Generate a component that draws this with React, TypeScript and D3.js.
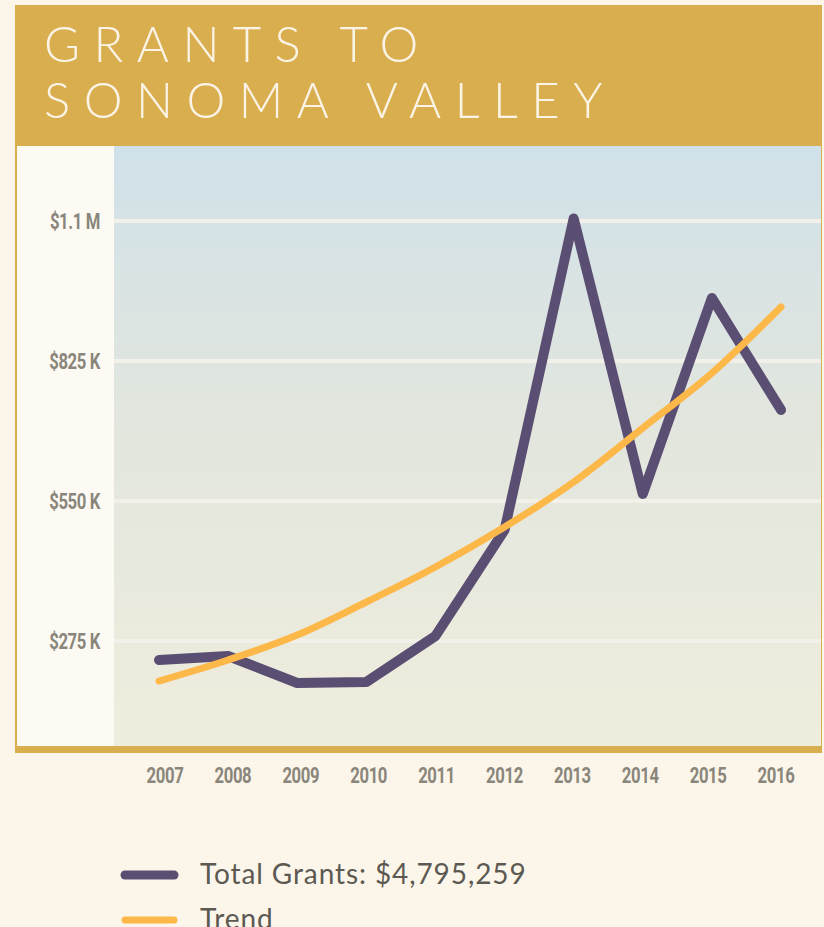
import React from "react";
import * as d3 from "d3";

const years = ["2007", "2008", "2009", "2010", "2011", "2012", "2013", "2014", "2015", "2016"];
const grants = [237700, 245500, 192500, 194500, 284800, 493000, 1105000, 563700, 948800, 728800];
const trend = [196400, 237700, 286800, 351600, 420400, 498900, 587300, 693400, 801400, 931100];
const yTicks = [275000, 550000, 825000, 1100000];
const yTickLabels = ["$275 K", "$550 K", "$825 K", "$1.1 M"];
const titleLines = ["GRANTS TO", "SONOMA VALLEY"];
const legendLabels = ["Total Grants: $4,795,259", "Trend"];

const W = 824;
const H = 927;
const PURPLE = "#5a4e72";
const ORANGE = "#fdb84a";
const GOLD = "#d9ae4f";
const LABEL = "#8a867b";

export default function App() {
  const plotLeft = 114;
  const plotRight = 821;
  const plotTop = 146;
  const plotBottom = 746;

  const x = d3.scalePoint<string>().domain(years).range([159, 781]);
  const xLab = d3.scalePoint<string>().domain(years).range([165, 776]);
  const y = d3.scaleLinear().domain([275000, 1100000]).range([641, 221]);

  const lineStraight = d3
    .line<number>()
    .x((_, i) => x(years[i]) as number)
    .y((d) => y(d));
  const lineSmooth = d3
    .line<number>()
    .x((_, i) => x(years[i]) as number)
    .y((d) => y(d))
    .curve(d3.curveMonotoneX);

  const condensed = "Roboto, 'DejaVu Sans', sans-serif";
  const sx = 0.76;

  return (
    <svg
      width={W}
      height={H}
      style={{ position: "absolute", left: 0, top: 0, display: "block" }}
    >
      <defs>
        <linearGradient id="plotGrad" x1="0" y1="0" x2="0" y2="1">
          <stop offset="0" stopColor="#d0e1e9" />
          <stop offset="0.45" stopColor="#e2e6de" />
          <stop offset="1" stopColor="#efeddd" />
        </linearGradient>
      </defs>
      <rect x={0} y={0} width={W} height={H} fill="#fcf6ea" />

      {/* title band */}
      <rect x={15} y={5} width={807} height={141} fill={GOLD} />
      {titleLines.map((t, i) => (
        <text
          key={t}
          x={44}
          y={62 + i * 56}
          fill="#fbf4e6"
          fontFamily="Lato, 'Open Sans', sans-serif"
          fontWeight={300}
          fontSize={49}
          letterSpacing={13.5}
        >
          {t}
        </text>
      ))}

      {/* chart frame */}
      <rect x={15} y={146} width={807} height={607} fill={GOLD} />
      <rect x={17} y={146} width={plotLeft - 17} height={plotBottom - plotTop} fill="#fdfaf3" />
      <rect
        x={plotLeft}
        y={plotTop}
        width={plotRight - plotLeft}
        height={plotBottom - plotTop}
        fill="url(#plotGrad)"
      />

      {/* grid lines */}
      {yTicks.map((t) => (
        <line
          key={t}
          x1={plotLeft}
          x2={plotRight}
          y1={y(t)}
          y2={y(t)}
          stroke="#f3f0ea"
          strokeWidth={4}
        />
      ))}

      {/* y labels */}
      {yTicks.map((t, i) => (
        <text
          key={"yl" + t}
          transform={`translate(100,${y(t) + 8}) scale(${sx},1)`}
          textAnchor="end"
          fill={LABEL}
          fontFamily={condensed}
          fontWeight={700}
          fontSize={22}
          letterSpacing={-0.5}
        >
          {yTickLabels[i]}
        </text>
      ))}

      {/* lines */}
      <path
        d={lineStraight(grants) as string}
        fill="none"
        stroke={PURPLE}
        strokeWidth={10}
        strokeLinecap="round"
        strokeLinejoin="round"
      />
      <path
        d={lineSmooth(trend) as string}
        fill="none"
        stroke={ORANGE}
        strokeWidth={7}
        strokeLinecap="round"
        strokeLinejoin="round"
      />

      {/* x labels */}
      {years.map((yr) => (
        <text
          key={"xl" + yr}
          transform={`translate(${xLab(yr) as number},783) scale(${sx},1)`}
          textAnchor="middle"
          fill={LABEL}
          fontFamily={condensed}
          fontWeight={700}
          fontSize={22}
          letterSpacing={-0.5}
        >
          {yr}
        </text>
      ))}

      {/* legend */}
      {legendLabels.map((l, i) => (
        <g key={l}>
          <line
            x1={125}
            x2={174}
            y1={875 + i * 45}
            y2={875 + i * 45}
            stroke={i === 0 ? PURPLE : ORANGE}
            strokeWidth={i === 0 ? 9 : 7}
            strokeLinecap="round"
          />
          <text
            x={200}
            y={884 + i * 45}
            fill="#5c5953"
            fontFamily="Lato, 'Open Sans', sans-serif"
            fontWeight={400}
            fontSize={28}
            letterSpacing={0.9}
          >
            {l}
          </text>
        </g>
      ))}
    </svg>
  );
}
